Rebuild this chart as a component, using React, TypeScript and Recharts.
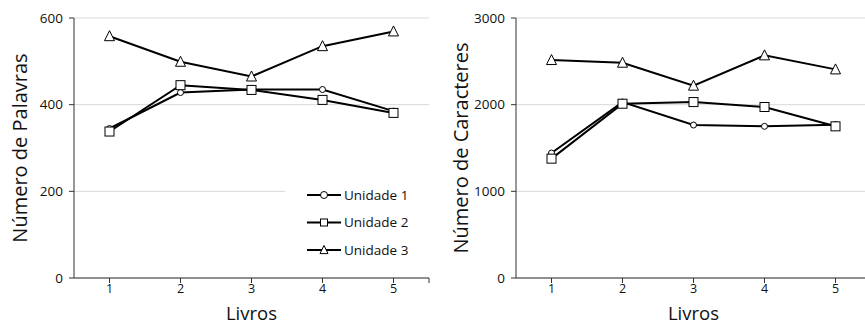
import { LineChart, Line, XAxis, YAxis, CartesianGrid } from "recharts";

const livros = [1, 2, 3, 4, 5];

// Número de Palavras
const palavrasU1 = [345, 428, 435, 435, 385];
const palavrasU2 = [338, 445, 434, 411, 381];
const palavrasU3 = [558, 499, 465, 535, 569];

// Número de Caracteres
const caracteresU1 = [1442, 2030, 1765, 1750, 1769];
const caracteresU2 = [1377, 2011, 2030, 1973, 1750];
const caracteresU3 = [2515, 2484, 2219, 2569, 2407];

const palavrasTicks = [0, 200, 400, 600];
const caracteresTicks = [0, 1000, 2000, 3000];

const FONT = "'Open Sans', 'Liberation Sans', sans-serif";

const palavrasData = livros.map((livro, i) => ({
  livro,
  u1: palavrasU1[i],
  u2: palavrasU2[i],
  u3: palavrasU3[i],
}));

const caracteresData = livros.map((livro, i) => ({
  livro,
  u1: caracteresU1[i],
  u2: caracteresU2[i],
  u3: caracteresU3[i],
}));

const CircleDot = (props: any) => {
  const { cx, cy, r = 4.5 } = props;
  if (cx == null || cy == null) return null;
  return <circle cx={cx} cy={cy} r={r} fill="#fff" stroke="#000" strokeWidth={1} />;
};

const SquareDot = (props: any) => {
  const { cx, cy, s = 9 } = props;
  if (cx == null || cy == null) return null;
  return (
    <rect x={cx - s / 2} y={cy - s / 2} width={s} height={s} fill="#fff" stroke="#000" strokeWidth={1} />
  );
};

const TriangleDot = (props: any) => {
  const { cx, cy, s = 10 } = props;
  if (cx == null || cy == null) return null;
  const h = s * 0.9;
  return (
    <polygon
      points={`${cx},${cy - h / 2 - 1} ${cx - s / 2},${cy + h / 2} ${cx + s / 2},${cy + h / 2}`}
      fill="#fff"
      stroke="#000"
      strokeWidth={1}
    />
  );
};

const legendItems = [
  { name: "Unidade 1", Dot: CircleDot, props: { r: 3.5 } },
  { name: "Unidade 2", Dot: SquareDot, props: { s: 7 } },
  { name: "Unidade 3", Dot: TriangleDot, props: { s: 8 } },
];

const LegendBox = () => (
  <svg width={145} height={90} style={{ position: "absolute", left: 285, top: 183 }}>
    <rect x={0} y={0} width={145} height={90} fill="#fff" />
    {legendItems.map((item, i) => {
      const y = 12 + i * 27.5;
      return (
        <g key={item.name}>
          <line x1={22} x2={56} y1={y} y2={y} stroke="#000" strokeWidth={2} />
          <item.Dot cx={39} cy={y} {...item.props} />
          <text x={59} y={y + 4.5} fontSize={13.5} fontFamily={FONT} fill="#111">
            {item.name}
          </text>
        </g>
      );
    })}
  </svg>
);

function Painel({
  data,
  ticks,
  max,
  yLabel,
  width,
  yWidth,
  labelOffset,
}: {
  data: any[];
  ticks: number[];
  max: number;
  yLabel: string;
  width: number;
  yWidth: number;
  labelOffset: number;
}) {
  return (
    <LineChart width={width} height={325} data={data} margin={{ top: 18, right: width - yWidth - 355, bottom: 0, left: 0 }}>
      <CartesianGrid vertical={false} stroke="#d9d9d9" horizontalValues={ticks} />
      <XAxis
        dataKey="livro"
        type="number"
        domain={[0.5, 5.5]}
        ticks={[1, 2, 3, 4, 5, 5.5]}
        tickFormatter={(v: number) => (Number.isInteger(v) ? String(v) : "")}
        height={47}
        stroke="#333"
        tickSize={5}
        tick={{ fill: "#111", fontSize: 12.5, fontFamily: FONT, dy: -1 }}
        label={{
          value: "Livros",
          position: "insideBottom",
          offset: 5,
          style: { fontSize: 18.5, fontFamily: FONT, fill: "#111" },
        }}
      />
      <YAxis
        domain={[0, max]}
        ticks={ticks}
        width={yWidth}
        stroke="#333"
        tickSize={5}
        tick={{ fill: "#111", fontSize: 13.5, fontFamily: FONT, dx: -4 }}
        label={{
          value: yLabel,
          angle: -90,
          position: "insideLeft",
          offset: labelOffset,
          style: { textAnchor: "middle", fontSize: 20, fontFamily: FONT, fill: "#111" },
        }}
      />
      <Line dataKey="u1" name="Unidade 1" stroke="#000" strokeWidth={2} dot={<CircleDot />} isAnimationActive={false} />
      <Line dataKey="u2" name="Unidade 2" stroke="#000" strokeWidth={2} dot={<SquareDot />} isAnimationActive={false} />
      <Line dataKey="u3" name="Unidade 3" stroke="#000" strokeWidth={2} dot={<TriangleDot />} isAnimationActive={false} />
    </LineChart>
  );
}

export default function App() {
  return (
    <div
      style={{
        position: "absolute",
        left: 0,
        top: 0,
        width: 865,
        height: 325,
        overflow: "hidden",
        background: "#fff",
        display: "flex",
      }}
    >
      <div style={{ width: 430, flex: "none", position: "relative" }}>
        <Painel data={palavrasData} ticks={palavrasTicks} max={600} yLabel="Número de Palavras" width={430} yWidth={74} labelOffset={20} />
        <LegendBox />
      </div>
      <div style={{ width: 441, flex: "none" }}>
        <Painel data={caracteresData} ticks={caracteresTicks} max={3000} yLabel="Número de Caracteres" width={441} yWidth={86} labelOffset={31} />
      </div>
    </div>
  );
}
